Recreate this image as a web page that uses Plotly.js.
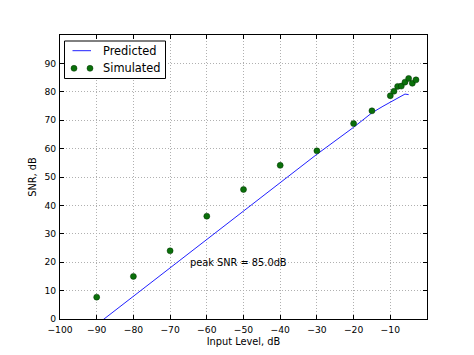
<!DOCTYPE html>
<html>
<head>
<meta charset="utf-8">
<script src="https://cdn.plot.ly/plotly-3.0.1.min.js"></script>
<style>html,body{margin:0;padding:0;background:#fff;}#chart{width:474px;height:355px;}</style>
</head>
<body>
<div id="chart"></div>
<script>
// Predicted SNR curve
var predX = [-100, -88, -60, -30, -20, -15, -12, -10, -8, -7, -6, -5];
var predY = [-12, 0, 27.8, 58, 67.5, 72.6, 74.9, 76.3, 77.8, 78.6, 79.2, 79.0];
// Simulated SNR points
var simX = [-90, -80, -70, -60, -50, -40, -30, -20, -15, -10, -9, -8, -7, -6, -5, -4, -3];
var simY = [7.7, 15.0, 24.0, 36.2, 45.6, 54.1, 59.2, 68.8, 73.3, 78.6, 80.2, 81.9, 82.0, 83.4, 84.7, 83.0, 84.2];
var xTicks = [-100, -90, -80, -70, -60, -50, -40, -30, -20, -10];
var yTicks = [0, 10, 20, 30, 40, 50, 60, 70, 80, 90];
var seriesNames = ['Predicted', 'Simulated'];
var peakText = 'peak SNR = 85.0dB';

var font = 'DejaVu Sans, sans-serif';
var lineColor = '#2020ff';
var markerColor = '#0a700a';
var traces = [
  {x: predX, y: predY, type: 'scatter', mode: 'lines', name: seriesNames[0],
   line: {color: lineColor, width: 1}},
  {x: simX, y: simY, type: 'scatter', mode: 'markers', name: seriesNames[1],
   marker: {color: markerColor, size: 6, line: {color: '#003000', width: 0.5}}}
];

// plot area in pixels: left 60, right 427, top 35, bottom 319
var PL = 60, PR = 427, PT = 35, PB = 319;
function px(x) { return (x - PL) / (PR - PL); }
function py(y) { return (PB - y) / (PB - PT); }

var shapes = [
  {type: 'rect', xref: 'paper', yref: 'paper', x0: px(64.5), x1: px(165.5), y0: py(78.5), y1: py(41),
   line: {color: '#000', width: 1}, fillcolor: '#fff', layer: 'above'},
  {type: 'line', xref: 'paper', yref: 'paper', x0: px(72.5), x1: px(91), y0: py(50.7), y1: py(50.7),
   line: {color: lineColor, width: 1}, layer: 'above'}
];
[74, 90].forEach(function(cx) {
  shapes.push({type: 'circle', xref: 'paper', yref: 'paper', x0: px(cx - 3), x1: px(cx + 3), y0: py(68.3 + 3), y1: py(68.3 - 3),
    fillcolor: markerColor, line: {color: '#003000', width: 0.5}, layer: 'above'});
});

var axisCommon = {
  showline: true, linecolor: '#000', linewidth: 1, mirror: 'ticks',
  ticks: 'inside', ticklen: 4, tickcolor: '#000', tickwidth: 1,
  showgrid: true, gridcolor: '#b0b0b0', griddash: '1px,2px', gridwidth: 1,
  zeroline: false, tickfont: {family: font, size: 9.2, color: '#000'}
};
var layout = {
  width: 474, height: 355,
  margin: {l: PL, r: 474 - PR, t: PT, b: 355 - PB},
  paper_bgcolor: '#fff', plot_bgcolor: '#fff',
  showlegend: false,
  xaxis: Object.assign({}, axisCommon, {
    range: [-100, 0], tickvals: xTicks, ticklabelstandoff: 2,
    ticktext: xTicks.map(function(v){return String(v).replace('-', '\u2212');}),
    title: {text: 'Input Level, dB', font: {family: font, size: 9.8, color: '#000'}, standoff: 4}
  }),
  yaxis: Object.assign({}, axisCommon, {
    range: [0, 100], tickvals: yTicks, ticklabelstandoff: 1,
    title: {text: 'SNR, dB', font: {family: font, size: 9.8, color: '#000'}, standoff: 6}
  }),
  shapes: shapes,
  annotations: [
    {x: -65, y: 20, xref: 'x', yref: 'y', text: peakText, showarrow: false,
     xanchor: 'left', yanchor: 'middle', font: {family: font, size: 9.8, color: '#000'}},
    {x: px(101.5), y: py(50.7), xref: 'paper', yref: 'paper', text: seriesNames[0], showarrow: false,
     xanchor: 'left', yanchor: 'middle', borderpad: 0, font: {family: font, size: 11.4, color: '#000'}},
    {x: px(101.5), y: py(67.9), xref: 'paper', yref: 'paper', text: seriesNames[1], showarrow: false,
     xanchor: 'left', yanchor: 'middle', borderpad: 0, font: {family: font, size: 11.4, color: '#000'}}
  ]
};
Plotly.newPlot('chart', traces, layout, {displayModeBar: false, staticPlot: true});
</script>
</body>
</html>
